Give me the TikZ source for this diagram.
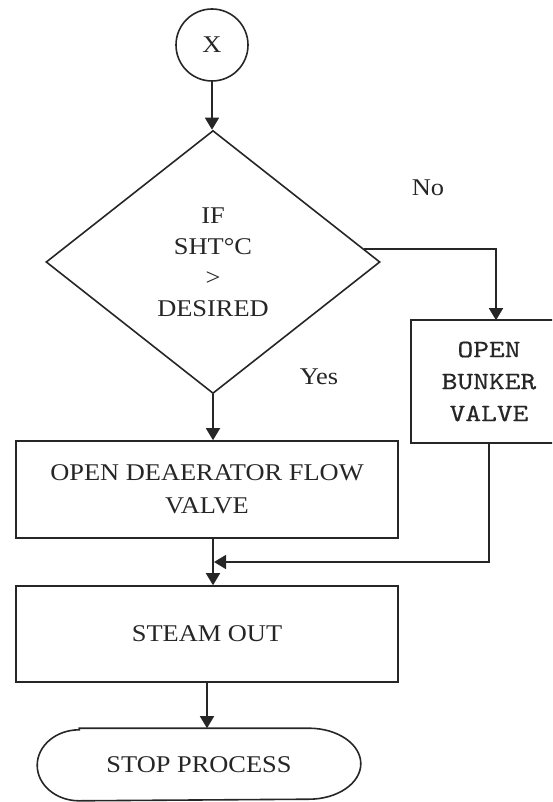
\documentclass[tikz,border=0pt]{standalone}
\usepackage{fontspec}
\setmainfont[FakeStretch=1.1]{Liberation Serif}
\newfontfamily\monofnt[FakeStretch=1.2,FakeBold=0.5]{lmmono10-regular.otf}
\usetikzlibrary{shapes.geometric,arrows.meta}
\begin{document}
\begin{tikzpicture}[x=1pt,y=-1pt,
  ln/.style={draw=black!85,line width=1.6pt},
  arr/.style={ln,-{Triangle[width=14pt,length=12pt]}},
  box/.style={ln,rectangle,inner sep=0pt,align=center,text=black!85,
    font=\fontsize{24}{33}\selectfont},
  lbl/.style={text=black!85,font=\fontsize{24}{28}\selectfont}]
\useasboundingbox (0,0) rectangle (552,802);
\clip (0,0) rectangle (552,802);
\node[box,circle,minimum size=72pt] (x) at (212,45) {X};
\node[box,diamond,minimum width=334pt,minimum height=263pt,
  font=\fontsize{24}{31}\selectfont] (dia) at (213,262)
  {IF\\SHT°C\\>\\DESIRED};
\node[box,draw=none,minimum width=154pt,minimum height=121pt,
  font=\monofnt\fontsize{25}{32}\selectfont] (bunker) at (489,381.5)
  {OPEN\\BUNKER\\VALVE};
\draw[ln] ([xshift=20pt]bunker.north east) -- (bunker.north west)
  -- (bunker.south west) -- ([xshift=20pt]bunker.south east);
\node[box,minimum width=382pt,minimum height=97pt] (deaer) at (207,489.5)
  {OPEN DEAERATOR FLOW\\VALVE};
\node[box,minimum width=382pt,minimum height=96pt] (steam) at (207,634)
  {STEAM OUT};
\node[box,draw=none,minimum width=322pt,minimum height=71pt] (stop) at (199,764.5)
  {STOP PROCESS};
\draw[ln] ([xshift=42pt]stop.north west) -- ([xshift=-52pt]stop.north east)
  arc[start angle=90,end angle=-90,x radius=52pt,y radius=35.5pt]
  -- ([xshift=42pt]stop.south west)
  arc[start angle=270,end angle=90,x radius=42pt,y radius=35.5pt] -- cycle;
\node[lbl] (no) at (428,188) {No};
\node[lbl] (yes) at (319,377) {Yes};
\coordinate (m) at (214,562);
\draw[arr] (x.south) -- (x.south |- dia.north);
\draw[arr] (dia.5) -| ([xshift=7pt]bunker.north);
\draw[arr] (dia.south) -- (dia.south |- deaer.north);
\draw[arr] (dia.south |- deaer.south) -- (dia.south |- steam.north);
\draw[arr] (bunker.south) |- (m);
\draw[arr] (steam.south) -- (steam.south |- stop.north);
\end{tikzpicture}
\end{document}
